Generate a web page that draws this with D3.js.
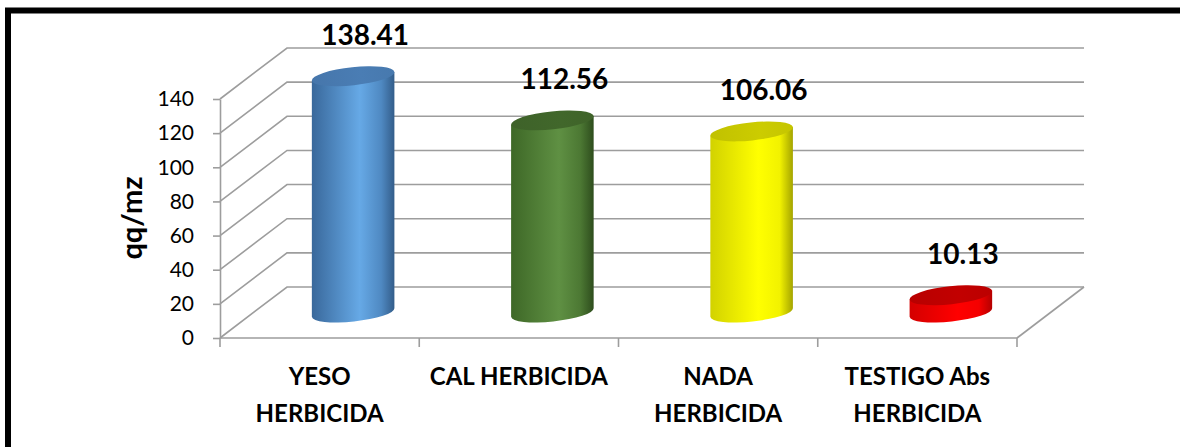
<!DOCTYPE html>
<html>
<head>
<meta charset="utf-8">
<script src="https://cdn.jsdelivr.net/npm/d3@7/dist/d3.min.js"></script>
<style>
  html, body { margin: 0; padding: 0; background: #fff; }
  svg { display: block; }
</style>
</head>
<body>
<script>
// Rendimiento por tratamiento (qq/mz)
const categories = ["YESO HERBICIDA", "CAL HERBICIDA", "NADA HERBICIDA", "TESTIGO Abs HERBICIDA"];
const categoryLines = [["YESO", "HERBICIDA"], ["CAL HERBICIDA"], ["NADA", "HERBICIDA"], ["TESTIGO Abs", "HERBICIDA"]];
const values = [138.41, 112.56, 106.06, 10.13];
const yTicks = [0, 20, 40, 60, 80, 100, 120, 140];
const yTitle = "qq/mz";

// cylinder colour ramps: [left edge, highlight, shoulder, right edge, top face]
const palettes = [
  ["#39689b", "#66a9e6", "#4f89c2", "#335d8a", "#4a7db4"],
  ["#3e6827", "#5f9043", "#4c7833", "#2e4d1d", "#41672b"],
  ["#d2d200", "#ffff00", "#f2f200", "#a4a400", "#cccc00"],
  ["#d40000", "#ff0000", "#f40000", "#b40000", "#c20000"]
];

const W = 1180, H = 447;
const FONT = "Lato, 'Open Sans', sans-serif";
const GRID = "#9d9d9d";

const svg = d3.select("body").append("svg")
  .attr("width", W).attr("height", H);

// front plane scales, plus the depth offset of the 3D box
const x = d3.scaleBand().domain(categories).range([220, 1017]);
const y = d3.scaleLinear().domain([0, 140]).range([338, 99]);
const dx = 67, dy = -51;
const x0 = x.range()[0], x1 = x.range()[1];

// outer frame
svg.append("rect")
  .attr("x", 8).attr("y", 10.5)
  .attr("width", 1300).attr("height", 600)
  .attr("fill", "none").attr("stroke", "#000").attr("stroke-width", 6);

const grid = svg.append("g")
  .attr("fill", "none").attr("stroke", GRID).attr("stroke-width", 1.6);

// side wall diagonals and back wall gridlines
yTicks.forEach(t => {
  const yf = y(t);
  grid.append("path")
    .attr("d", `M${x0},${yf}L${x0 + dx},${yf + dy}L${x1 + dx},${yf + dy}`);
});
// floor right edge
grid.append("path")
  .attr("d", `M${x1},${y(0)}L${x1 + dx},${y(0) + dy}`);

// value axis
const yAxis = svg.append("g")
  .attr("transform", `translate(${x0},0)`)
  .call(d3.axisLeft(y).tickValues(yTicks).tickSize(7).tickSizeOuter(0).tickPadding(19));
yAxis.select(".domain").attr("stroke", GRID).attr("stroke-width", 1.6);
yAxis.selectAll(".tick line").attr("stroke", GRID).attr("stroke-width", 1.6);
yAxis.selectAll(".tick text")
  .attr("font-family", FONT).attr("font-size", 21).attr("fill", "#000");

// category axis: baseline and boundary ticks
const edges = categories.map(c => x(c)).concat([x1]);
grid.append("line")
  .attr("x1", x0).attr("x2", x1).attr("y1", y(0)).attr("y2", y(0));
grid.selectAll("line.edge").data(edges).join("line")
  .attr("class", "edge")
  .attr("x1", d => d).attr("x2", d => d)
  .attr("y1", y(0)).attr("y2", y(0) + 9);

// gradients
const defs = svg.append("defs");
palettes.forEach((p, i) => {
  const g = defs.append("linearGradient").attr("id", "body" + i)
    .attr("x1", 0).attr("x2", 1).attr("y1", 0).attr("y2", 0);
  [[0, p[0]], [0.58, p[1]], [0.84, p[2]], [1, p[3]]].forEach(([o, c]) =>
    g.append("stop").attr("offset", o).attr("stop-color", c));
  const t = defs.append("linearGradient").attr("id", "top" + i)
    .attr("x1", 0).attr("x2", 1).attr("y1", 0).attr("y2", 0);
  t.append("stop").attr("offset", 0).attr("stop-color", d3.color(p[4]).darker(0.15));
  t.append("stop").attr("offset", 0.6).attr("stop-color", p[4]);
  t.append("stop").attr("offset", 1).attr("stop-color", d3.color(p[4]).darker(0.1));
});

// cylinders sit halfway into the depth of the box
const bw = x.bandwidth();
const rx = 41.5, ry = 9, rot = -6;
const rad = rot * Math.PI / 180;
const midY = v => y(v) + dy / 2;
const cxOf = c => x(c) + bw / 2 + dx / 2;

const bars = svg.append("g").selectAll("g.bar")
  .data(categories.map((c, i) => ({ c, v: values[i], i })))
  .join("g").attr("class", "bar");

bars.append("path")
  .attr("fill", d => `url(#body${d.i})`)
  .attr("d", d => {
    const cx = cxOf(d.c), yt = midY(d.v), yb = midY(0);
    const ex = rx * Math.cos(rad), ey = rx * Math.sin(rad);
    return `M${cx - ex},${yt - ey}L${cx - ex},${yb - ey}` +
      `A${rx},${ry} ${rot} 0 0 ${cx + ex},${yb + ey}` +
      `L${cx + ex},${yt + ey}Z`;
  });

bars.append("ellipse")
  .attr("cx", d => cxOf(d.c)).attr("cy", d => midY(d.v))
  .attr("rx", rx).attr("ry", ry)
  .attr("transform", d => `rotate(${rot},${cxOf(d.c)},${midY(d.v)})`)
  .attr("fill", d => `url(#top${d.i})`);

// value labels
bars.append("text")
  .attr("x", d => cxOf(d.c) + 12)
  .attr("y", d => midY(d.v) - 31)
  .attr("text-anchor", "middle")
  .attr("font-family", FONT).attr("font-weight", 700).attr("font-size", 28)
  .attr("fill", "#000")
  .text(d => d3.format(".2f")(d.v));

// category labels
const cat = svg.append("g").selectAll("text")
  .data(categories.map((c, i) => ({ c, lines: categoryLines[i] })))
  .join("text")
  .attr("text-anchor", "middle")
  .attr("font-family", FONT).attr("font-weight", 700).attr("font-size", 24)
  .attr("fill", "#000");
cat.selectAll("tspan").data(d => d.lines.map(l => ({ l, cx: x(d.c) + bw / 2 })))
  .join("tspan")
  .attr("x", d => d.cx)
  .attr("y", (d, j) => 385 + j * 37)
  .text(d => d.l);

// axis title
svg.append("text")
  .attr("transform", "translate(130,218) rotate(-90)")
  .attr("text-anchor", "middle").attr("dominant-baseline", "central")
  .attr("font-family", FONT).attr("font-weight", 700).attr("font-size", 29)
  .attr("fill", "#000")
  .text(yTitle);
</script>
</body>
</html>
